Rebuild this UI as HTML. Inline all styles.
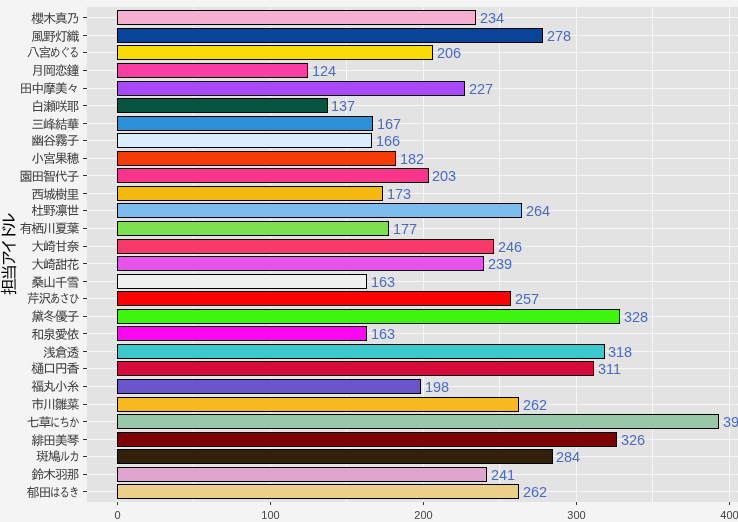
<!DOCTYPE html>
<html lang="ja"><head><meta charset="utf-8"><title>担当アイドル</title>
<style>
html,body{margin:0;padding:0;}
body{width:738px;height:522px;overflow:hidden;background:#f4f4f4;position:relative;font-family:"Liberation Sans","IPAGothic","Noto Sans CJK JP",sans-serif;}
#panel{position:absolute;left:0;top:0;width:738px;height:522px;}
.yl{position:absolute;right:659.6px;height:14px;line-height:14px;font-size:13px;letter-spacing:-1.2px;color:#3d3d3d;white-space:nowrap;font-family:"IPAGothic","Noto Sans CJK JP",sans-serif;}
.yl .k{display:inline-block;transform:scaleX(0.8);transform-origin:100% 50%;margin-right:-0.2px;}
.v{position:absolute;height:18px;line-height:18px;font-size:15.4px;color:#4a6ac4;white-space:nowrap;transform:scaleX(0.94);transform-origin:0 50%;}
.xl{position:absolute;top:508px;width:40px;text-align:center;height:14px;line-height:14px;font-size:11px;color:#444;}
#yt{position:absolute;left:9.2px;top:256px;width:0;height:0;}
#yt > span{position:absolute;left:-60px;top:-10px;width:120px;height:20px;line-height:20px;text-align:center;transform:rotate(-90deg);font-size:17px;letter-spacing:-2.6px;color:#000;white-space:nowrap;font-family:"IPAGothic","Noto Sans CJK JP",sans-serif;}
#yt .k{letter-spacing:-4.6px;}
</style></head><body>
<svg id="panel" width="738" height="522" viewBox="0 0 738 522" shape-rendering="crispEdges">
<rect x="87" y="7" width="651" height="495" fill="#e3e3e3"/>

<rect x="117" y="7" width="1" height="495" fill="#f7f7f7"/>
<rect x="117" y="502" width="1" height="3" fill="#333"/>
<rect x="193" y="7" width="1" height="495" fill="#f7f7f7"/>
<rect x="270" y="7" width="1" height="495" fill="#f7f7f7"/>
<rect x="270" y="502" width="1" height="3" fill="#333"/>
<rect x="346" y="7" width="1" height="495" fill="#f7f7f7"/>
<rect x="423" y="7" width="1" height="495" fill="#f7f7f7"/>
<rect x="423" y="502" width="1" height="3" fill="#333"/>
<rect x="499" y="7" width="1" height="495" fill="#f7f7f7"/>
<rect x="576" y="7" width="1" height="495" fill="#f7f7f7"/>
<rect x="576" y="502" width="1" height="3" fill="#333"/>
<rect x="652" y="7" width="1" height="495" fill="#f7f7f7"/>
<rect x="729" y="7" width="1" height="495" fill="#f7f7f7"/>
<rect x="729" y="502" width="1" height="3" fill="#333"/>
<rect x="87" y="17" width="651" height="1" fill="#f7f7f7"/>
<rect x="83" y="17" width="4" height="1" fill="#333"/>
<rect x="87" y="35" width="651" height="1" fill="#f7f7f7"/>
<rect x="83" y="35" width="4" height="1" fill="#333"/>
<rect x="87" y="52" width="651" height="1" fill="#f7f7f7"/>
<rect x="83" y="52" width="4" height="1" fill="#333"/>
<rect x="87" y="70" width="651" height="1" fill="#f7f7f7"/>
<rect x="83" y="70" width="4" height="1" fill="#333"/>
<rect x="87" y="88" width="651" height="1" fill="#f7f7f7"/>
<rect x="83" y="88" width="4" height="1" fill="#333"/>
<rect x="87" y="105" width="651" height="1" fill="#f7f7f7"/>
<rect x="83" y="105" width="4" height="1" fill="#333"/>
<rect x="87" y="123" width="651" height="1" fill="#f7f7f7"/>
<rect x="83" y="123" width="4" height="1" fill="#333"/>
<rect x="87" y="140" width="651" height="1" fill="#f7f7f7"/>
<rect x="83" y="140" width="4" height="1" fill="#333"/>
<rect x="87" y="158" width="651" height="1" fill="#f7f7f7"/>
<rect x="83" y="158" width="4" height="1" fill="#333"/>
<rect x="87" y="175" width="651" height="1" fill="#f7f7f7"/>
<rect x="83" y="175" width="4" height="1" fill="#333"/>
<rect x="87" y="193" width="651" height="1" fill="#f7f7f7"/>
<rect x="83" y="193" width="4" height="1" fill="#333"/>
<rect x="87" y="210" width="651" height="1" fill="#f7f7f7"/>
<rect x="83" y="210" width="4" height="1" fill="#333"/>
<rect x="87" y="228" width="651" height="1" fill="#f7f7f7"/>
<rect x="83" y="228" width="4" height="1" fill="#333"/>
<rect x="87" y="246" width="651" height="1" fill="#f7f7f7"/>
<rect x="83" y="246" width="4" height="1" fill="#333"/>
<rect x="87" y="263" width="651" height="1" fill="#f7f7f7"/>
<rect x="83" y="263" width="4" height="1" fill="#333"/>
<rect x="87" y="281" width="651" height="1" fill="#f7f7f7"/>
<rect x="83" y="281" width="4" height="1" fill="#333"/>
<rect x="87" y="298" width="651" height="1" fill="#f7f7f7"/>
<rect x="83" y="298" width="4" height="1" fill="#333"/>
<rect x="87" y="316" width="651" height="1" fill="#f7f7f7"/>
<rect x="83" y="316" width="4" height="1" fill="#333"/>
<rect x="87" y="333" width="651" height="1" fill="#f7f7f7"/>
<rect x="83" y="333" width="4" height="1" fill="#333"/>
<rect x="87" y="351" width="651" height="1" fill="#f7f7f7"/>
<rect x="83" y="351" width="4" height="1" fill="#333"/>
<rect x="87" y="368" width="651" height="1" fill="#f7f7f7"/>
<rect x="83" y="368" width="4" height="1" fill="#333"/>
<rect x="87" y="386" width="651" height="1" fill="#f7f7f7"/>
<rect x="83" y="386" width="4" height="1" fill="#333"/>
<rect x="87" y="404" width="651" height="1" fill="#f7f7f7"/>
<rect x="83" y="404" width="4" height="1" fill="#333"/>
<rect x="87" y="421" width="651" height="1" fill="#f7f7f7"/>
<rect x="83" y="421" width="4" height="1" fill="#333"/>
<rect x="87" y="439" width="651" height="1" fill="#f7f7f7"/>
<rect x="83" y="439" width="4" height="1" fill="#333"/>
<rect x="87" y="456" width="651" height="1" fill="#f7f7f7"/>
<rect x="83" y="456" width="4" height="1" fill="#333"/>
<rect x="87" y="474" width="651" height="1" fill="#f7f7f7"/>
<rect x="83" y="474" width="4" height="1" fill="#333"/>
<rect x="87" y="491" width="651" height="1" fill="#f7f7f7"/>
<rect x="83" y="491" width="4" height="1" fill="#333"/>
<rect x="117.5" y="10.5" width="358" height="14" fill="#f5b0cf" stroke="#000" stroke-width="1"/>
<rect x="117.5" y="28.5" width="425" height="14" fill="#0a4499" stroke="#000" stroke-width="1"/>
<rect x="117.5" y="45.5" width="315" height="14" fill="#f8dc08" stroke="#000" stroke-width="1"/>
<rect x="117.5" y="63.5" width="190" height="14" fill="#fa3fa4" stroke="#000" stroke-width="1"/>
<rect x="117.5" y="81.5" width="347" height="14" fill="#a848f8" stroke="#000" stroke-width="1"/>
<rect x="117.5" y="98.5" width="210" height="14" fill="#07543f" stroke="#000" stroke-width="1"/>
<rect x="117.5" y="116.5" width="255" height="14" fill="#2d8fd5" stroke="#000" stroke-width="1"/>
<rect x="117.5" y="133.5" width="254" height="14" fill="#d9eefa" stroke="#000" stroke-width="1"/>
<rect x="117.5" y="151.5" width="278" height="14" fill="#f53c05" stroke="#000" stroke-width="1"/>
<rect x="117.5" y="168.5" width="311" height="14" fill="#f8358a" stroke="#000" stroke-width="1"/>
<rect x="117.5" y="186.5" width="265" height="14" fill="#f4b80e" stroke="#000" stroke-width="1"/>
<rect x="117.5" y="203.5" width="404" height="14" fill="#7dbdee" stroke="#000" stroke-width="1"/>
<rect x="117.5" y="221.5" width="271" height="14" fill="#7de04e" stroke="#000" stroke-width="1"/>
<rect x="117.5" y="239.5" width="376" height="14" fill="#f83a6a" stroke="#000" stroke-width="1"/>
<rect x="117.5" y="256.5" width="366" height="14" fill="#e653e8" stroke="#000" stroke-width="1"/>
<rect x="117.5" y="274.5" width="249" height="14" fill="#f0f0f0" stroke="#000" stroke-width="1"/>
<rect x="117.5" y="291.5" width="393" height="14" fill="#fb0203" stroke="#000" stroke-width="1"/>
<rect x="117.5" y="309.5" width="502" height="14" fill="#3ef50f" stroke="#000" stroke-width="1"/>
<rect x="117.5" y="326.5" width="249" height="14" fill="#fb07f0" stroke="#000" stroke-width="1"/>
<rect x="117.5" y="344.5" width="487" height="14" fill="#3cc8cd" stroke="#000" stroke-width="1"/>
<rect x="117.5" y="361.5" width="476" height="14" fill="#d80a3a" stroke="#000" stroke-width="1"/>
<rect x="117.5" y="379.5" width="303" height="14" fill="#6a55cd" stroke="#000" stroke-width="1"/>
<rect x="117.5" y="397.5" width="401" height="14" fill="#f8b820" stroke="#000" stroke-width="1"/>
<rect x="117.5" y="414.5" width="601" height="14" fill="#98c8a8" stroke="#000" stroke-width="1"/>
<rect x="117.5" y="432.5" width="499" height="14" fill="#7d0306" stroke="#000" stroke-width="1"/>
<rect x="117.5" y="449.5" width="435" height="14" fill="#32200c" stroke="#000" stroke-width="1"/>
<rect x="117.5" y="467.5" width="369" height="14" fill="#dfa5cf" stroke="#000" stroke-width="1"/>
<rect x="117.5" y="484.5" width="401" height="14" fill="#ecd08a" stroke="#000" stroke-width="1"/>
</svg>
<div class="yl" style="top:12px">櫻木真乃</div>
<div class="v" style="left:479.89px;top:9px">234</div>
<div class="yl" style="top:30px">風野灯織</div>
<div class="v" style="left:547.22px;top:27px">278</div>
<div class="yl" style="top:46px">八宮<span class="k" style="margin-left:-7.08px">めぐる</span></div>
<div class="v" style="left:437.04px;top:44px">206</div>
<div class="yl" style="top:64px">月岡恋鐘</div>
<div class="v" style="left:311.56px;top:62px">124</div>
<div class="yl" style="top:82px">田中摩美々</div>
<div class="v" style="left:469.18px;top:80px">227</div>
<div class="yl" style="top:100px">白瀬咲耶</div>
<div class="v" style="left:331.45px;top:97px">137</div>
<div class="yl" style="top:118px">三峰結華</div>
<div class="v" style="left:377.36px;top:115px">167</div>
<div class="yl" style="top:134px">幽谷霧子</div>
<div class="v" style="left:375.83px;top:132px">166</div>
<div class="yl" style="top:152px">小宮果穂</div>
<div class="v" style="left:400.31px;top:150px">182</div>
<div class="yl" style="top:170px">園田智代子</div>
<div class="v" style="left:432.45px;top:167px">203</div>
<div class="yl" style="top:188px">西城樹里</div>
<div class="v" style="left:386.54px;top:185px">173</div>
<div class="yl" style="top:204px">杜野凛世</div>
<div class="v" style="left:525.80px;top:202px">264</div>
<div class="yl" style="top:222px">有栖川夏葉</div>
<div class="v" style="left:392.66px;top:220px">177</div>
<div class="yl" style="top:240px">大崎甘奈</div>
<div class="v" style="left:498.25px;top:238px">246</div>
<div class="yl" style="top:258px">大崎甜花</div>
<div class="v" style="left:487.54px;top:255px">239</div>
<div class="yl" style="top:276px">桑山千雪</div>
<div class="v" style="left:371.24px;top:273px">163</div>
<div class="yl" style="top:292px">芹沢<span class="k" style="margin-left:-7.08px">あさひ</span></div>
<div class="v" style="left:515.09px;top:290px">257</div>
<div class="yl" style="top:310px">黛冬優子</div>
<div class="v" style="left:623.74px;top:308px">328</div>
<div class="yl" style="top:328px">和泉愛依</div>
<div class="v" style="left:371.24px;top:325px">163</div>
<div class="yl" style="top:346px">浅倉透</div>
<div class="v" style="left:608.44px;top:343px">318</div>
<div class="yl" style="top:362px">樋口円香</div>
<div class="v" style="left:597.72px;top:360px">311</div>
<div class="yl" style="top:380px">福丸小糸</div>
<div class="v" style="left:424.80px;top:378px">198</div>
<div class="yl" style="top:398px">市川雛菜</div>
<div class="v" style="left:522.74px;top:396px">262</div>
<div class="yl" style="top:416px">七草<span class="k" style="margin-left:-7.08px">にちか</span></div>
<div class="v" style="left:723.21px;top:413px">393</div>
<div class="yl" style="top:434px">緋田美琴</div>
<div class="v" style="left:620.68px;top:431px">326</div>
<div class="yl" style="top:450px">斑鳩<span class="k" style="margin-left:-4.72px">ルカ</span></div>
<div class="v" style="left:556.41px;top:448px">284</div>
<div class="yl" style="top:468px">鈴木羽那</div>
<div class="v" style="left:490.60px;top:466px">241</div>
<div class="yl" style="top:486px">郁田<span class="k" style="margin-left:-7.08px">はるき</span></div>
<div class="v" style="left:522.74px;top:483px">262</div>
<div class="xl" style="left:97.50px">0</div>
<div class="xl" style="left:250.50px">100</div>
<div class="xl" style="left:403.50px">200</div>
<div class="xl" style="left:556.50px">300</div>
<div class="xl" style="left:709.50px">400</div>
<div id="yt"><span>担当<span class="k">アイドル</span></span></div>
</body></html>
